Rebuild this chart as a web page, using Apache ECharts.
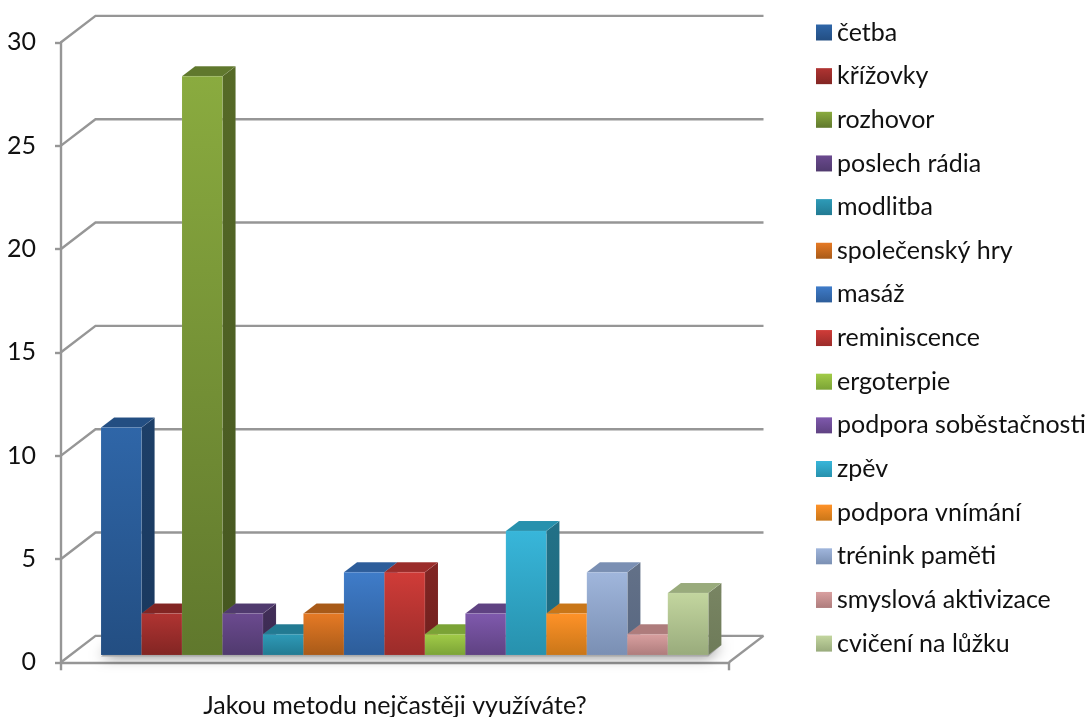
<!DOCTYPE html>
<html>
<head>
<meta charset="utf-8">
<style>html,body{margin:0;padding:0;background:#fff}#chart{width:1088px;height:717px}</style>
<script src="https://cdn.jsdelivr.net/npm/echarts@6/dist/echarts.min.js"></script>
</head>
<body>
<div id="chart"></div>
<script>
// Survey answers: one column per activity, all in a single category.
const question = ['Jakou metodu nejčastěji využíváte?'];
const methods = ['četba','křížovky','rozhovor','poslech rádia','modlitba','společenský hry','masáž','reminiscence','ergoterpie','podpora soběstačnosti','zpěv','podpora vnímání','trénink paměti','smyslová aktivizace','cvičení na lůžku'];
const counts = [11,2,28,2,1,2,4,4,1,2,6,2,4,1,3];
const wallTicks = [0,5,10,15,20,25,30];

// Front-face shading of each column, light at the top, dark at the foot.
const lightShades = ['#2f66a8','#b03432','#8aab3f','#6b4a8f','#2e9bb8','#e67a25','#3f7cc9','#d03c38','#a2cc48','#7f59ad','#38b6da','#ff9228','#a0b6dc','#d9a0a0','#c3d69f'];
const darkShades = ['#234e82','#822523','#60782d','#503a6e','#227a92','#a85a18','#2d5d9a','#9b2c2a','#7ba336','#5f4282','#2791ad','#c97618','#7a8fb3','#ae7c7c','#99ab7c'];

// Oblique projection of the pseudo-3D box.
const DEPTH_X = 34.5, DEPTH_Y = 26.4;      // full floor depth in pixels
const BAR_NEAR = 0.28, BAR_FAR = 0.66;     // share of the depth the columns occupy
const GAP = 0.75;                          // side gap, in column widths
const AXIS_COLOR = '#969696';
const FONT = 'Lato';

const vertical = (a, b) => new echarts.graphic.LinearGradient(0, 0, 0, 1, [{offset: 0, color: a}, {offset: 1, color: b}]);

// Multiplies a colour's channels, for the unlit side of a column.
function shade(color, factor) {
  const [r, g, b] = echarts.color.parse(color);
  return `rgb(${Math.round(r * factor)},${Math.round(g * factor)},${Math.round(b * factor)})`;
}

function columnRenderer(index) {
  return function (params, api) {
    const bottom = api.coord([0, 0]);
    const top = api.coord([0, api.value(1)]);
    const band = api.size([1, 0])[0];
    const w = band / (methods.length + 2 * GAP);
    const x0 = bottom[0] - band / 2 + (GAP + index) * w + DEPTH_X * BAR_NEAR;
    const yb = bottom[1] - DEPTH_Y * BAR_NEAR;
    const yt = top[1] - DEPTH_Y * BAR_NEAR;
    const dx = DEPTH_X * (BAR_FAR - BAR_NEAR), dy = DEPTH_Y * (BAR_FAR - BAR_NEAR);
    const light = lightShades[index], dark = darkShades[index];
    const edge = {stroke: 'rgba(255,255,255,0.12)', lineWidth: 0.5};
    const face = (points, fill) => ({type: 'polygon', shape: {points}, style: Object.assign({fill}, edge)});
    return {type: 'group', children: [
      face([[x0 + w, yt], [x0 + w + dx, yt - dy], [x0 + w + dx, yb - dy], [x0 + w, yb]],
           vertical(shade(light, 0.62), shade(dark, 0.72))),
      face([[x0, yt], [x0 + dx, yt - dy], [x0 + w + dx, yt - dy], [x0 + w, yt]], dark),
      face([[x0, yt], [x0 + w, yt], [x0 + w, yb], [x0, yb]], vertical(light, dark))
    ]};
  };
}

// Walls: a line from the value axis back into the depth, then along the rear wall.
function wallLine(params, api) {
  const p = api.coord([0, api.value(0)]);
  const band = api.size([1, 0])[0];
  const left = p[0] - band / 2, right = p[0] + band / 2;
  const children = [{
    type: 'polyline',
    shape: {points: [[left, p[1]], [left + DEPTH_X, p[1] - DEPTH_Y], [right + DEPTH_X, p[1] - DEPTH_Y]]},
    style: {stroke: AXIS_COLOR, lineWidth: 2.4, fill: 'none'}
  }];
  if (api.value(0) === 0) {
    children.push({
      type: 'polyline',
      shape: {points: [[right, p[1]], [right + DEPTH_X, p[1] - DEPTH_Y]]},
      style: {stroke: AXIS_COLOR, lineWidth: 2.4, fill: 'none'}
    });
  }
  return {type: 'group', children};
}

// Soft shadow the row of columns throws on the floor.
function floorShadow(params, api) {
  const p = api.coord([0, 0]);
  const band = api.size([1, 0])[0];
  const w = band / (methods.length + 2 * GAP);
  const x0 = p[0] - band / 2 + GAP * w + DEPTH_X * BAR_NEAR;
  const x1 = x0 + methods.length * w;
  const y = p[1] - DEPTH_Y * BAR_NEAR;
  const dx = DEPTH_X * (BAR_FAR - BAR_NEAR), dy = DEPTH_Y * (BAR_FAR - BAR_NEAR);
  return {
    type: 'polygon',
    shape: {points: [[x0, y + 1.5], [x0 + dx, y - dy], [x1 + dx, y - dy], [x1, y + 1.5]]},
    style: {fill: '#a8a8a8', shadowBlur: 14, shadowColor: 'rgba(0,0,0,0.5)', shadowOffsetY: 0}
  };
}

const columnSeries = methods.map((name, i) => ({
  name,
  type: 'custom',
  coordinateSystem: 'cartesian2d',
  renderItem: columnRenderer(i),
  itemStyle: {color: vertical(lightShades[i], darkShades[i])},
  encode: {x: 0, y: 1},
  data: [[0, counts[i]]],
  z: 5 + i * 0.01,
  silent: true,
  clip: false
}));

const chart = echarts.init(document.getElementById('chart'), null, {renderer: 'canvas'});
chart.setOption({
  animation: false,
  backgroundColor: '#ffffff',
  grid: {left: 61, top: 42.3, width: 668, height: 620, outerBoundsMode: 'none'},
  xAxis: {
    type: 'category',
    data: question,
    axisLine: {lineStyle: {color: AXIS_COLOR, width: 2.4}},
    axisTick: {show: true, length: 8, lineStyle: {color: AXIS_COLOR, width: 2.4}},
    axisLabel: {fontFamily: FONT, fontSize: 25, color: '#111111', margin: 31}
  },
  yAxis: {
    type: 'value',
    min: 0,
    max: 30,
    interval: 5,
    splitLine: {show: false},
    axisLine: {show: true, lineStyle: {color: AXIS_COLOR, width: 2.4}},
    axisTick: {show: true, length: 6, lineStyle: {color: AXIS_COLOR, width: 2.4}},
    axisLabel: {fontFamily: FONT, fontSize: 25, color: '#111111', margin: 25, padding: [1, 0, 0, 0]}
  },
  legend: {
    orient: 'vertical',
    left: 816,
    top: 20,
    padding: 0,
    icon: 'rect',
    itemWidth: 16,
    itemHeight: 16,
    itemGap: 18.65,
    data: methods,
    textStyle: {fontFamily: FONT, fontSize: 25, color: '#111111'},
    selectedMode: false
  },
  series: [
    {type: 'custom', renderItem: wallLine, data: wallTicks.map(v => [v]), encode: {y: 0}, z: 1, silent: true, clip: false},
    {type: 'custom', renderItem: floorShadow, data: [[0]], encode: {y: 0}, z: 2, silent: true, clip: false},
    ...columnSeries
  ]
});
</script>
</body>
</html>
